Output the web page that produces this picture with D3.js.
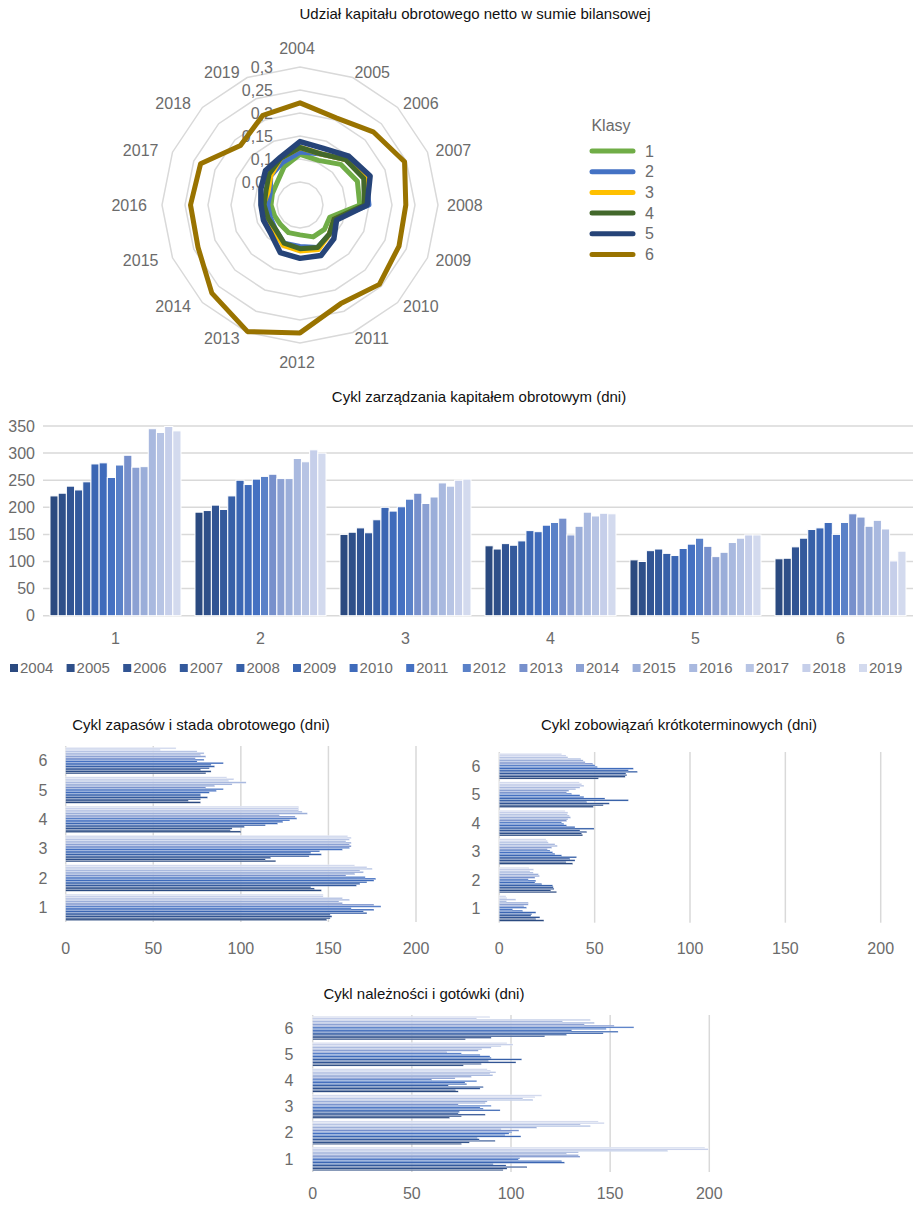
<!DOCTYPE html>
<html><head><meta charset="utf-8">
<script src="https://cdn.jsdelivr.net/npm/d3@7"></script>
<style>
body{margin:0;background:#fff;}
svg text{font-family:"Liberation Sans",Arial,sans-serif;}
</style></head><body>
<svg id="c" width="917" height="1206"></svg>
<script>
// ---- data ----
const years = ["2004","2005","2006","2007","2008","2009","2010","2011","2012","2013","2014","2015","2016","2017","2018","2019"];
const classes = ["1","2","3","4","5","6"];
const radarTicks = [0, 0.05, 0.1, 0.15, 0.2, 0.25, 0.3];
const radarTickLabels = ["0","0,05","0,1","0,15","0,2","0,25","0,3"];

// net working capital / total assets, per class
const shareClass1 = [0.110,0.105,0.125,0.135,0.130,0.070,0.075,0.075,0.065,0.065,0.060,0.060,0.063,0.065,0.070,0.090];
const shareClass2 = [0.115,0.120,0.140,0.155,0.150,0.080,0.090,0.100,0.090,0.090,0.075,0.070,0.070,0.070,0.090,0.100];
const shareClass3 = [0.125,0.120,0.140,0.155,0.145,0.080,0.090,0.105,0.100,0.095,0.080,0.080,0.080,0.075,0.090,0.110];
const shareClass4 = [0.125,0.120,0.140,0.150,0.140,0.080,0.090,0.100,0.095,0.090,0.075,0.075,0.078,0.080,0.095,0.110];
const shareClass5 = [0.138,0.133,0.150,0.165,0.146,0.086,0.104,0.119,0.116,0.112,0.089,0.086,0.085,0.092,0.106,0.112];
const shareClass6 = [0.222,0.205,0.225,0.246,0.230,0.233,0.244,0.232,0.278,0.298,0.271,0.240,0.238,0.234,0.183,0.211];

// working capital management cycle (days), per class, 2004..2019
const wcmClass1 = [221,226,239,232,247,280,282,255,278,296,274,275,345,338,349,341];
const wcmClass2 = [191,194,204,196,221,250,242,252,257,261,253,253,290,284,306,300];
const wcmClass3 = [150,154,162,153,177,200,193,201,215,226,207,219,245,239,250,252];
const wcmClass4 = [129,123,133,130,138,157,155,167,172,180,149,165,191,184,189,188];
const wcmClass5 = [103,100,120,123,115,111,124,132,143,128,109,117,135,143,149,149];
const wcmClass6 = [105,106,127,143,159,162,172,150,172,188,182,165,176,160,101,119];
const wcmTicks = [0,50,100,150,200,250,300,350];

// inventory cycle (days)
const invClass1 = [149,151,152,151,172,170,176,163,180,176,158,156,162,158,147,147];
const invClass2 = [146,142,140,166,168,172,176,177,171,160,165,170,168,175,172,165];
const invClass3 = [120,114,117,139,146,140,145,158,162,163,162,163,160,162,163,161];
const invClass4 = [100,94,95,102,114,121,124,128,132,131,122,138,135,133,133,133];
const invClass5 = [77,70,77,81,77,77,82,86,90,80,85,95,103,93,96,92];
const invClass6 = [80,83,77,82,85,83,90,75,79,74,80,77,79,75,54,63];

// short-term liabilities cycle (days)
const payClass1 = [23.4,19.2,21.3,16.6,17.0,19.2,12.2,7.0,14.3,12.9,15.2,15.2,3.8,8.7,4.0,3.5];
const payClass2 = [30.0,27.0,28.7,28.3,28.0,22.2,18.7,19.2,15.2,18.7,21.0,20.5,17.8,16.1,18.0,15.5];
const payClass3 = [38.5,35.0,39.7,37.0,40.5,32.7,29.2,28.0,26.6,25.2,27.5,30.4,29.2,25.7,25.2,24.5];
const payClass4 = [43.7,43.2,45.8,42.3,49.7,39.7,35.3,33.9,32.7,35.3,36.0,37.4,36.7,35.7,36.0,34.5];
const payClass5 = [49.3,54.5,57.7,45.8,67.7,55.4,44.4,42.3,37.9,35.3,36.5,40.0,42.3,44.4,43.2,42.0];
const payClass6 = [52.0,66.0,66.8,66.4,72.4,67.7,70.3,51.4,50.2,49.0,45.0,44.0,42.7,36.0,35.0,32.7];

// receivables and cash cycle (days)
const recClass1 = [96,98,108,97.5,91,127,125.5,103.7,104.5,134.8,134,128,134,179,199.5,197.8];
const recClass2 = [75,79,92,84,83,105,97,99,100.5,104,95,113,140,135,147,144];
const recClass3 = [69,75,87,73.4,74,94.5,86,84.4,90,73.4,87,88,111,106,112,115.5];
const recClass4 = [73.4,72,84.4,86,68.4,77.6,76.8,82.7,60,71.8,80,90.8,89.4,92.4,89.7,88];
const recClass5 = [76,85,102.5,88.6,105.4,90,89.4,84.4,75,67.6,83.5,85.2,90,95,101,98];
const recClass6 = [77,90,117,128,146.5,154,130.6,148,162,152,137,142,126,140,82.7,89.4];
const dayTicks = [0,50,100,150,200];

// ---- styling ----
const classColors = ["#70AD47","#4472C4","#FFC000","#43682B","#264478","#997300"];
const yearColors = ["#2B4A80","#2E4F89","#315493","#33599C","#3760A8","#3B66B3","#3F6BBB","#4571C2","#5A81C8","#7790CC","#8CA1D3","#9BAED9","#A9B9DF","#B7C4E4","#C6CFEA","#D3DAEE"];
const gridColor = "#d9d9d9";
const labelColor = "#6b6b6b";

const svg = d3.select("#c");

function title(x, y, txt){
  svg.append("text").attr("x",x).attr("y",y).attr("text-anchor","middle")
    .attr("font-size",15).attr("fill","#111").text(txt);
}

// ================= radar =================
title(475, 19, "Udział kapitału obrotowego netto w sumie bilansowej");
const cx = 300, cy = 205;
const rScale = d3.scaleLinear().domain([0,0.3]).range([0,138]);
const step = 2*Math.PI/years.length;
const radar = svg.append("g").attr("transform",`translate(${cx},${cy})`);
const ringLine = d3.lineRadial().angle((d,i)=>i*step).radius(d=>rScale(d)).curve(d3.curveLinearClosed);

radarTicks.filter(t=>t>0).forEach(t=>{
  radar.append("path").attr("d", ringLine(years.map(()=>t)))
    .attr("fill","none").attr("stroke",gridColor).attr("stroke-width",1.5);
});
radarTicks.forEach((t,i)=>{
  radar.append("text").attr("x",-27).attr("y",-rScale(t)).attr("dy","0.35em")
    .attr("text-anchor","end").attr("font-size",16).attr("fill",labelColor).text(radarTickLabels[i]);
});
years.forEach((yr,i)=>{
  const a = i*step, s = Math.sin(a), c = Math.cos(a);
  let anchor = Math.abs(s) < 0.1 ? "middle" : (s>0 ? "start" : "end");
  let x = 150*s - 3, y;
  if (Math.abs(s) < 0.1) y = -c*157; else y = -c*144;
  radar.append("text").attr("x",x).attr("y",y).attr("dy","0.35em")
    .attr("text-anchor",anchor).attr("font-size",16).attr("fill",labelColor).text(yr);
});
const shares = [shareClass1,shareClass2,shareClass3,shareClass4,shareClass5,shareClass6];
shares.forEach((vals,k)=>{
  radar.append("path").attr("d", ringLine(vals))
    .attr("fill","none").attr("stroke",classColors[k])
    .attr("stroke-width", k===4 ? 5.5 : 5).attr("stroke-linejoin","round");
});
// legend
svg.append("text").attr("x",611).attr("y",125).attr("dy","0.35em").attr("text-anchor","middle")
  .attr("font-size",16).attr("fill",labelColor).text("Klasy");
classes.forEach((c,k)=>{
  const y = 151 + k*20.7;
  svg.append("line").attr("x1",592).attr("x2",633).attr("y1",y).attr("y2",y)
    .attr("stroke",classColors[k]).attr("stroke-width",5).attr("stroke-linecap","round");
  svg.append("text").attr("x",645).attr("y",y).attr("dy","0.35em")
    .attr("font-size",16).attr("fill",labelColor).text(c);
});

// ================= column chart =================
title(479, 402, "Cykl zarządzania kapitałem obrotowym (dni)");
const wcm = [wcmClass1,wcmClass2,wcmClass3,wcmClass4,wcmClass5,wcmClass6];
const yB = d3.scaleLinear().domain([0,350]).range([615.7,426]);
const x0 = d3.scaleBand().domain(classes).range([43,913]).paddingInner(0.0966).paddingOuter(0.0483);
const x1 = d3.scaleBand().domain(years).range([0,x0.bandwidth()]);
wcmTicks.forEach(t=>{
  svg.append("line").attr("x1",43).attr("x2",913).attr("y1",yB(t)).attr("y2",yB(t))
    .attr("stroke",gridColor).attr("stroke-width",1.5);
  svg.append("text").attr("x",35).attr("y",yB(t)).attr("dy","0.35em").attr("text-anchor","end")
    .attr("font-size",16).attr("fill",labelColor).text(t);
});
classes.forEach((c,k)=>{
  const g = svg.append("g").attr("transform",`translate(${x0(c)},0)`);
  g.selectAll("rect").data(wcm[k]).join("rect")
    .attr("x",(d,i)=>x1(years[i])).attr("width",x1.bandwidth())
    .attr("y",d=>yB(d)).attr("height",d=>yB(0)-yB(d))
    .attr("fill",(d,i)=>yearColors[i]).attr("stroke","#fff").attr("stroke-width",1);
  svg.append("text").attr("x",x0(c)+x0.bandwidth()/2).attr("y",638).attr("dy","0.35em")
    .attr("text-anchor","middle").attr("font-size",16).attr("fill",labelColor).text(c);
});
// year legend
years.forEach((yr,i)=>{
  const lx = 10 + i*56.6;
  svg.append("rect").attr("x",lx).attr("y",664).attr("width",8).attr("height",8).attr("fill",yearColors[i]);
  svg.append("text").attr("x",lx+10).attr("y",668).attr("dy","0.35em")
    .attr("font-size",15).attr("fill",labelColor).text(yr);
});

// ================= horizontal bar charts =================
function hbars(opts){
  const x = d3.scaleLinear().domain([0,200]).range(opts.xr);
  const y0 = d3.scaleBand().domain(classes.slice().reverse()).range(opts.yr).paddingInner(0.096).paddingOuter(0.048);
  const y1 = d3.scaleBand().domain(years.slice().reverse()).range([0,y0.bandwidth()]);
  title(opts.tx, opts.ty, opts.title);
  dayTicks.forEach(t=>{
    svg.append("line").attr("x1",x(t)).attr("x2",x(t)).attr("y1",opts.yr[0]).attr("y2",opts.yr[1])
      .attr("stroke",gridColor).attr("stroke-width",1.5);
    svg.append("text").attr("x",x(t)).attr("y",opts.tickY).attr("dy","0.35em").attr("text-anchor","middle")
      .attr("font-size",16).attr("fill",labelColor).text(t);
  });
  classes.forEach((c,k)=>{
    const g = svg.append("g").attr("transform",`translate(0,${y0(c)})`);
    g.selectAll("rect").data(opts.data[k]).join("rect")
      .attr("x",x(0)).attr("y",(d,i)=>y1(years[i])).attr("height",y1.bandwidth())
      .attr("width",d=>x(d)-x(0))
      .attr("fill",(d,i)=>yearColors[i]).attr("stroke","#fff").attr("stroke-width",0.25);
    svg.append("text").attr("x",opts.catX).attr("y",y0(c)+y0.bandwidth()/2).attr("dy","0.35em")
      .attr("text-anchor","middle").attr("font-size",16).attr("fill",labelColor).text(c);
  });
}
hbars({title:"Cykl zapasów i stada obrotowego (dni)", tx:201, ty:730,
  xr:[65.7,416], yr:[746,922], tickY:948, catX:43,
  data:[invClass1,invClass2,invClass3,invClass4,invClass5,invClass6]});
hbars({title:"Cykl zobowiązań krótkoterminowych (dni)", tx:679, ty:730,
  xr:[499.3,880.7], yr:[752,922.7], tickY:948, catX:476,
  data:[payClass1,payClass2,payClass3,payClass4,payClass5,payClass6]});
hbars({title:"Cykl należności i gotówki (dni)", tx:424, ty:999,
  xr:[312.7,709.3], yr:[1015,1172], tickY:1193, catX:289,
  data:[recClass1,recClass2,recClass3,recClass4,recClass5,recClass6]});
</script></body></html>
